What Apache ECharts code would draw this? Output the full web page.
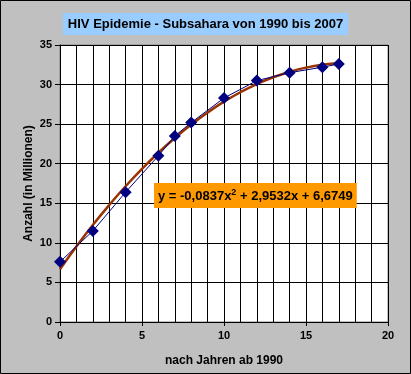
<!DOCTYPE html>
<html>
<head>
<meta charset="utf-8">
<script src="https://cdn.jsdelivr.net/npm/echarts@6/dist/echarts.min.js"></script>
<style>
html,body{margin:0;padding:0;background:#C0C0C0;}
#c{width:411px;height:374px;}
</style>
</head>
<body>
<div id="c"></div>
<script>
// Data
var years = [0, 2, 4, 6, 7, 8, 10, 12, 14, 16, 17];
var counts = [7.6, 11.5, 16.4, 21.0, 23.5, 25.2, 28.3, 30.5, 31.5, 32.2, 32.6];
var trendX = [0, 1, 2, 3, 4, 5, 6, 7, 8, 9, 10, 11, 12, 13, 14, 15, 16, 17];
var trendY = [6.67, 9.54, 12.25, 14.78, 17.15, 19.35, 21.38, 23.25, 24.94, 26.47, 27.84, 29.03, 30.06, 30.92, 31.61, 32.14, 32.50, 32.69];
var yTicks = [0, 5, 10, 15, 20, 25, 30, 35];
var xTicks = [0, 5, 10, 15, 20];
var titleText = 'HIV Epidemie - Subsahara von 1990 bis 2007';
var xName = 'nach Jahren ab 1990';
var yName = 'Anzahl (in Millionen)';

var chart = echarts.init(document.getElementById('c'), null, {renderer: 'canvas'});
var font = '"Liberation Sans", Arial, sans-serif';
chart.setOption({
  backgroundColor: '#C0C0C0',
  animation: false,
  title: [{
    text: titleText,
    left: 'center',
    top: 13,
    padding: [4, 5],
    backgroundColor: '#99CCFF',
    textStyle: {fontFamily: font, fontWeight: 'bold', fontSize: 13, lineHeight: 14, color: '#000'}
  }, {
    text: '{a|y = -0,0837x}{s|2}{a| + 2,9532x + 6,6749}',
    left: 154,
    top: 183,
    padding: [5, 4],
    backgroundColor: '#FF9900',
    textStyle: {
      rich: {
        a: {fontFamily: font, fontWeight: 'bold', fontSize: 13, color: '#000', lineHeight: 16},
        s: {fontFamily: font, fontWeight: 'bold', fontSize: 9, color: '#000', verticalAlign: 'top', lineHeight: 10, padding: [0, 0, 6, 0]}
      }
    }
  }],
  grid: {left: 60, right: 23, top: 45, bottom: 52, show: true, backgroundColor: '#fff', borderColor: '#808080', borderWidth: 1},
  xAxis: {
    type: 'value', min: 0, max: 20, interval: 5,
    name: xName, nameLocation: 'middle', nameGap: 33, nameMoveOverlap: false,
    nameTextStyle: {fontFamily: font, fontWeight: 'bold', fontSize: 12, color: '#000'},
    axisLine: {lineStyle: {color: '#000', width: 1}},
    axisTick: {show: true, inside: false, length: 4, lineStyle: {color: '#000'}},
    minorTick: {show: false, splitNumber: 5},
    minorSplitLine: {show: true, lineStyle: {color: '#000', width: 1}},
    splitLine: {show: true, lineStyle: {color: '#000', width: 1}},
    axisLabel: {fontFamily: font, fontWeight: 'bold', fontSize: 11, color: '#000', margin: 8,
      formatter: function (v) { return xTicks.indexOf(v) >= 0 ? String(v) : ''; }}
  },
  yAxis: {
    type: 'value', min: 0, max: 35, interval: 5,
    name: yName, nameLocation: 'middle', nameGap: 25, nameMoveOverlap: false,
    nameTextStyle: {fontFamily: font, fontWeight: 'bold', fontSize: 12, color: '#000'},
    axisLine: {show: true, lineStyle: {color: '#000', width: 1}},
    axisTick: {show: true, inside: false, length: 5, lineStyle: {color: '#000'}},
    splitLine: {show: true, lineStyle: {color: '#000', width: 1}},
    axisLabel: {fontFamily: font, fontWeight: 'bold', fontSize: 11, color: '#000', margin: 8,
      formatter: function (v) { return yTicks.indexOf(v) >= 0 ? String(v) : ''; }}
  },
  series: [{
    type: 'line',
    data: years.map(function (x, i) { return [x, counts[i]]; }),
    lineStyle: {color: '#000080', width: 1},
    itemStyle: {color: '#000080'},
    symbol: 'diamond', symbolSize: 12,
    z: 3
  }, {
    type: 'line',
    data: trendX.map(function (x, i) { return [x, trendY[i]]; }),
    smooth: true,
    showSymbol: false,
    lineStyle: {color: '#993300', width: 2.5},
    z: 2
  }],
  graphic: [{
    type: 'rect', z: 100, silent: true,
    shape: {x: 0.5, y: 0.5, width: 410, height: 373},
    style: {fill: 'none', stroke: '#000', lineWidth: 1}
  }]
});
</script>
</body>
</html>
